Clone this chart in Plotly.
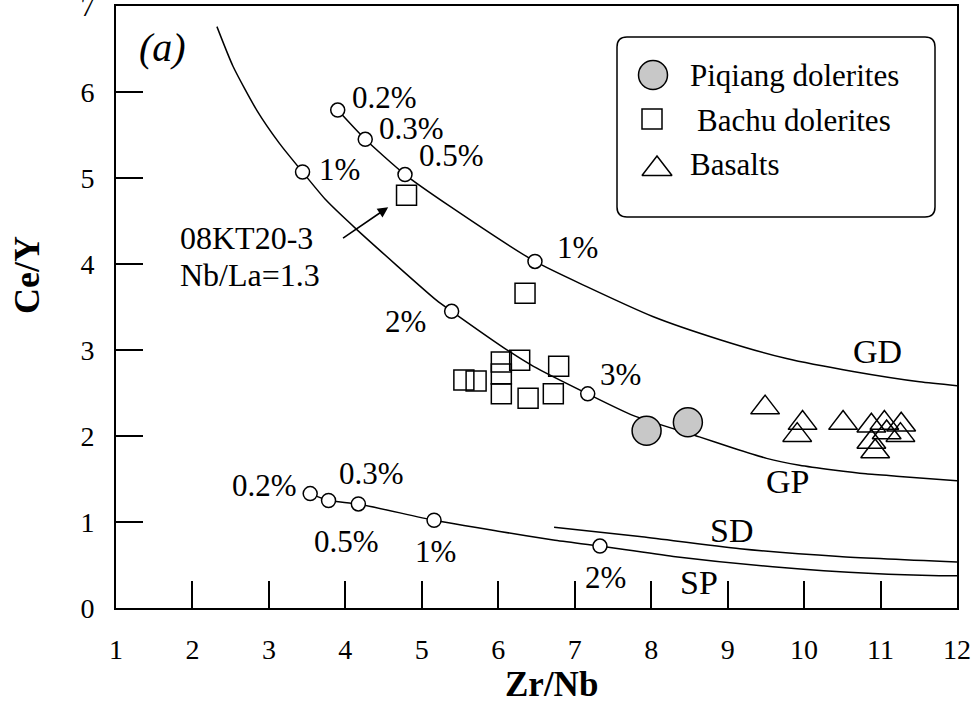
import plotly.graph_objects as go

# ---- sample data: Ce/Y vs Zr/Nb ----
piqiang_zrnb = [7.94, 8.48]
piqiang_cey = [2.06, 2.16]

bachu_zrnb = [4.80, 6.35, 6.04, 6.28, 6.79, 5.55, 5.71, 6.04, 6.04, 6.39, 6.72]
bachu_cey = [4.80, 3.66, 2.86, 2.88, 2.81, 2.65, 2.64, 2.72, 2.49, 2.44, 2.49]

basalt_zrnb = [9.49, 9.98, 9.91, 10.51, 10.88, 11.05, 11.27, 10.88, 10.93, 11.08, 11.26]
basalt_cey = [2.33, 2.15, 2.01, 2.15, 2.12, 2.15, 2.13, 1.93, 1.82, 2.04, 2.01]

# ---- partial-melting model curves ----
gd_x = [3.90, 4.26, 4.78, 5.37, 6.48, 7.15, 8.02, 8.90, 9.77, 10.64, 11.51, 12.0]
gd_y = [5.79, 5.45, 5.04, 4.67, 4.03, 3.74, 3.39, 3.12, 2.90, 2.75, 2.63, 2.585]

gp_x = [2.32, 2.53, 2.84, 3.14, 3.44, 3.75, 4.15, 5.19, 5.39, 6.15, 6.46, 7.17,
        7.76, 8.63, 9.07, 9.51, 9.94, 10.38, 10.81, 11.25, 12.0]
gp_y = [6.76, 6.30, 5.79, 5.40, 5.07, 4.74, 4.40, 3.58, 3.45, 2.98, 2.81, 2.49,
        2.24, 1.99, 1.86, 1.74, 1.66, 1.605, 1.56, 1.53, 1.48]

sd_x = [6.73, 7.85, 9.16, 10.46, 12.0]
sd_y = [0.94, 0.83, 0.69, 0.60, 0.535]

sp_x = [3.54, 3.78, 4.17, 5.16, 6.02, 6.72, 7.33, 8.29, 9.59, 10.90, 11.77, 12.0]
sp_y = [1.33, 1.25, 1.21, 1.02, 0.89, 0.79, 0.72, 0.60, 0.48, 0.40, 0.376, 0.376]

# melting-degree ticks on the curves
gd_pct = ["0.2%", "0.3%", "0.5%", "1%"]
gd_pct_x = [3.90, 4.26, 4.78, 6.48]
gd_pct_y = [5.79, 5.45, 5.04, 4.03]

gp_pct = ["1%", "2%", "3%"]
gp_pct_x = [3.44, 5.39, 7.17]
gp_pct_y = [5.07, 3.45, 2.49]

sp_pct = ["0.2%", "0.3%", "0.5%", "1%", "2%"]
sp_pct_x = [3.54, 3.78, 4.17, 5.16, 7.33]
sp_pct_y = [1.33, 1.25, 1.21, 1.02, 0.72]

curve_names = ["GD", "GP", "SD", "SP"]

x_ticks = list(range(1, 13))
y_ticks = list(range(0, 8))

FONT = "Liberation Serif, Times New Roman, serif"
BLACK = "#000000"
GREY = "#c8c8c8"

# plot-area geometry in pixels (for placing the key box)
L, R, T, B = 116, 957, 6, 608
W, H = 973, 702


def px_x(p):
    return (p - L) / (R - L)


def px_y(p):
    return (B - p) / (B - T)


fig = go.Figure()

line_style = dict(color=BLACK, width=1.5, shape="spline", smoothing=0.6)
for cx, cy in [(gd_x, gd_y), (gp_x, gp_y), (sd_x, sd_y), (sp_x, sp_y)]:
    fig.add_trace(go.Scatter(x=cx, y=cy, mode="lines", line=line_style,
                             hoverinfo="skip", showlegend=False))

# open circles marking melting degrees
fig.add_trace(go.Scatter(
    x=gd_pct_x + gp_pct_x + sp_pct_x, y=gd_pct_y + gp_pct_y + sp_pct_y,
    mode="markers",
    marker=dict(symbol="circle", size=14, color="white",
                line=dict(color=BLACK, width=1.5)),
    showlegend=False))

square_style = dict(symbol="square-open", size=20, color=BLACK, line=dict(width=1.5))
circle_style = dict(symbol="circle", size=29, color=GREY, line=dict(color=BLACK, width=1.5))
tri_style = dict(symbol="triangle-up-open", size=25, color=BLACK, line=dict(width=1.5))

fig.add_trace(go.Scatter(x=bachu_zrnb, y=bachu_cey, mode="markers",
                         marker=square_style, name="Bachu dolerites", showlegend=False))
fig.add_trace(go.Scatter(x=basalt_zrnb, y=basalt_cey, mode="markers",
                         marker=tri_style, name="Basalts", showlegend=False))
fig.add_trace(go.Scatter(x=piqiang_zrnb, y=piqiang_cey, mode="markers",
                         marker=circle_style, name="Piqiang dolerites", showlegend=False))

# ---- key box drawn on an overlay axis spanning the plot area ----
key_names = ["Piqiang dolerites", "Bachu dolerites", "Basalts"]
key_styles = [circle_style, dict(square_style), dict(tri_style, size=26)]
key_glyph_px = [(653, 75), (652, 119), (657, 169)]
key_text_px = [(688, 75), (695, 120), (688, 164)]
for name, st, (gx, gy) in zip(key_names, key_styles, key_glyph_px):
    fig.add_trace(go.Scatter(x=[px_x(gx)], y=[px_y(gy)], mode="markers",
                             marker=st, xaxis="x2", yaxis="y2",
                             showlegend=False, hoverinfo="skip"))

annotations = []
for name, (tx, ty) in zip(key_names, key_text_px):
    annotations.append(dict(x=px_x(tx), y=px_y(ty), xref="paper", yref="paper",
                            text=name, showarrow=False, xanchor="left",
                            yanchor="middle", font=dict(size=31)))

x0, x1, y0, y1 = px_x(617), px_x(935), px_y(217), px_y(37)
rx, ry = 10 / (R - L), 10 / (B - T)
key_path = (f"M {x0+rx},{y0} L {x1-rx},{y0} Q {x1},{y0} {x1},{y0+ry} "
            f"L {x1},{y1-ry} Q {x1},{y1} {x1-rx},{y1} L {x0+rx},{y1} "
            f"Q {x0},{y1} {x0},{y1-ry} L {x0},{y0+ry} Q {x0},{y0} {x0+rx},{y0} Z")
shapes = [dict(type="path", path=key_path, xref="paper", yref="paper",
               line=dict(color=BLACK, width=1.5), fillcolor="rgba(0,0,0,0)")]

# ---- melting-degree labels ----
gd_lbl = [(4.06, 5.94), (4.41, 5.58), (4.94, 5.26), (6.74, 4.19)]
gp_lbl = [(3.63, 5.10), (4.49, 3.33), (7.30, 2.71)]
sp_lbl = [(2.49, 1.42), (3.89, 1.56), (3.56, 0.77), (4.88, 0.66), (7.11, 0.36)]
for texts, pos in [(gd_pct, gd_lbl), (gp_pct, gp_lbl), (sp_pct, sp_lbl)]:
    for t, (lx, ly) in zip(texts, pos):
        annotations.append(dict(x=lx, y=ly, text=t, showarrow=False,
                                xanchor="left", yanchor="middle", font=dict(size=31)))

# curve names
curve_lbl = [(10.62, 2.98), (9.48, 1.47), (8.74, 0.90), (8.35, 0.30)]
for t, (lx, ly) in zip(curve_names, curve_lbl):
    annotations.append(dict(x=lx, y=ly, text=t, showarrow=False,
                            xanchor="left", yanchor="middle", font=dict(size=34)))

# sample call-out
annotations += [
    dict(x=1.81, y=4.30, text="08KT20-3", showarrow=False, xanchor="left",
         yanchor="middle", font=dict(size=32)),
    dict(x=1.81, y=3.87, text="Nb/La=1.3", showarrow=False, xanchor="left",
         yanchor="middle", font=dict(size=32)),
    dict(x=4.56, y=4.66, ax=3.95, ay=4.29, axref="x", ayref="y", text="",
         showarrow=True, arrowhead=2, arrowsize=1.3, arrowwidth=1.6, arrowcolor=BLACK),
    dict(x=1.27, y=6.52, text="<i>(a)</i>", showarrow=False, xanchor="left",
         yanchor="middle", font=dict(size=40)),
    # axis titles
    dict(x=px_x(27), y=px_y(275), xref="paper", yref="paper", text="<b>Ce/Y</b>",
         showarrow=False, textangle=-90, xanchor="center", yanchor="middle",
         font=dict(size=36)),
    dict(x=px_x(551), y=px_y(684), xref="paper", yref="paper", text="<b>Zr/Nb</b>",
         showarrow=False, xanchor="center", yanchor="middle", font=dict(size=35)),
]

axis_common = dict(showgrid=False, zeroline=False, showline=True, mirror=True,
                   linecolor=BLACK, linewidth=2, ticks="inside", ticklen=27,
                   tickwidth=1.5, tickcolor=BLACK, ticklabeloverflow="allow",
                   automargin=False,
                   tickfont=dict(family=FONT, size=28, color=BLACK))

fig.update_layout(
    width=W, height=H,
    margin=dict(l=L, r=W - R, t=T, b=H - B, autoexpand=False),
    paper_bgcolor="white", plot_bgcolor="white",
    font=dict(family=FONT, color=BLACK),
    xaxis=dict(axis_common, range=[1, 12], tickvals=x_ticks,
               ticktext=[str(v) for v in x_ticks], ticklabelstandoff=15),
    yaxis=dict(axis_common, range=[0, 7], tickvals=y_ticks,
               ticktext=[str(v) for v in y_ticks], ticklabelstandoff=14),
    xaxis2=dict(overlaying="x", range=[0, 1], visible=False),
    yaxis2=dict(overlaying="y", range=[0, 1], visible=False),
    annotations=annotations,
    shapes=shapes,
    showlegend=False,
)

fig.write_html("out.html")
